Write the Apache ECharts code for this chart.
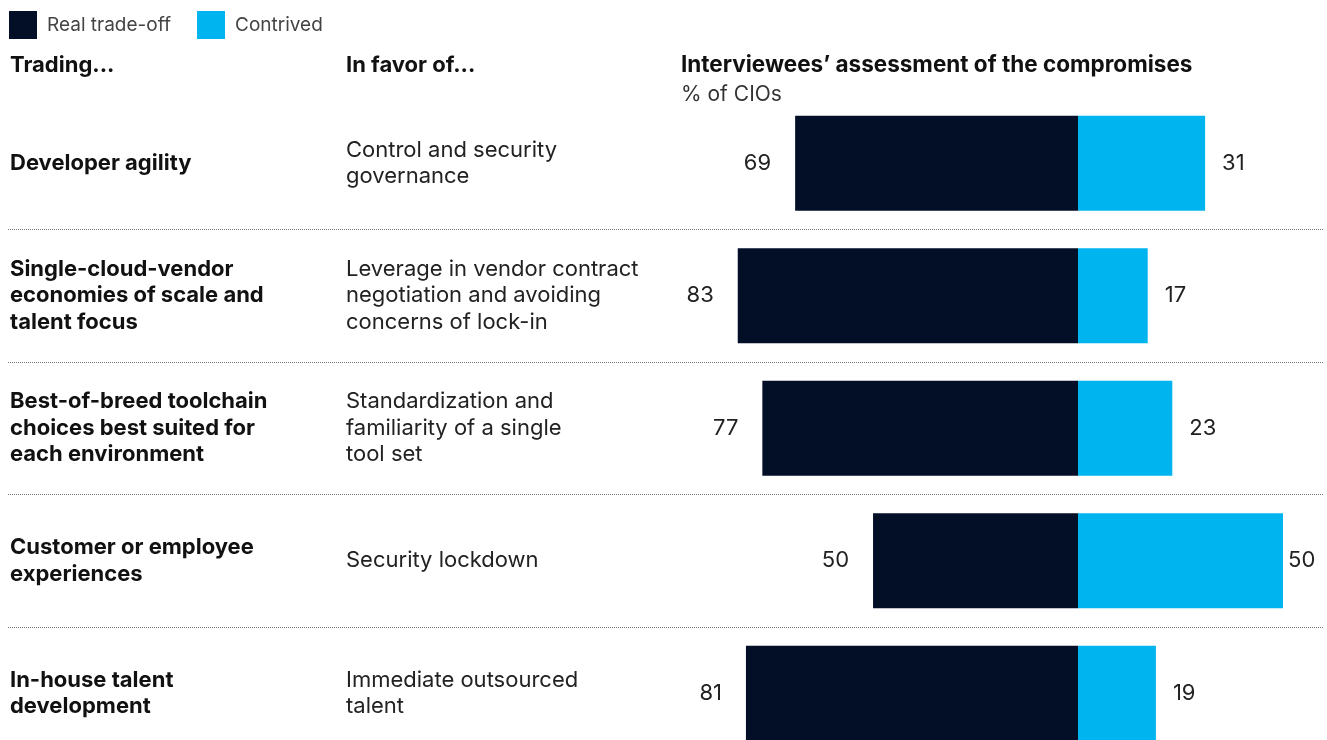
<!DOCTYPE html>
<html>
<head>
<meta charset="utf-8">
<script src="https://cdn.jsdelivr.net/npm/echarts@6/dist/echarts.min.js"></script>
<style>
  html, body { margin: 0; padding: 0; background: #fff; }
  #chart { width: 1327px; height: 740px; }
</style>
</head>
<body>
<div id="chart"></div>
<script type="text/javascript">
	// row labels
	var trading = [
		'Developer agility',
		'Single-cloud-vendor\neconomies of scale and\ntalent focus',
		'Best-of-breed toolchain\nchoices best suited for\neach environment',
		'Customer or employee\nexperiences',
		'In-house talent\ndevelopment'
	];
	var inFavorOf = [
		'Control and security\ngovernance',
		'Leverage in vendor contract\nnegotiation and avoiding\nconcerns of lock-in',
		'Standardization and\nfamiliarity of a single\ntool set',
		'Security lockdown',
		'Immediate outsourced\ntalent'
	];
	// % of CIOs
	var realTradeOff = [69, 83, 77, 50, 81];
	var contrived = [31, 17, 23, 50, 19];

	var font = 'Inter, Roboto, sans-serif';
	var darkColor = '#020f27';
	var cyanColor = '#00b4f0';

	function headStyle(size, weight, color) {
		return { fontSize : size, fontWeight : weight, color : color, fontFamily : font };
	}

	var option = {
		animation : false,
		textStyle : { fontFamily : font },
		title : [ {
			text : 'Trading...',
			left : 10,
			top : 54,
			padding : 0,
			textStyle : headStyle(22, 'bold', '#111')
		}, {
			text : 'In favor of...',
			left : 346,
			top : 54,
			padding : 0,
			textStyle : headStyle(22, 'bold', '#111')
		}, {
			text : 'Interviewees\u2019 assessment of the compromises',
			left : 681,
			top : 54,
			padding : 0,
			textStyle : headStyle(22.5, 'bold', '#111')
		}, {
			text : '% of CIOs',
			left : 681,
			top : 84,
			padding : 0,
			textStyle : headStyle(21, 'normal', '#333')
		} ],
		legend : {
			left : 9,
			top : 11,
			padding : 0,
			itemWidth : 28,
			itemHeight : 28,
			itemGap : 26,
			icon : 'rect',
			data : [ 'Real trade-off', 'Contrived' ],
			textStyle : {
				fontSize : 19,
				color : '#444',
				fontFamily : font,
				padding : [ 0, 0, 0, 5 ]
			}
		},
		grid : {
			left : 8,
			width : 1316,
			top : 97,
			height : 662.5,
			outerBoundsMode : 'none'
		},
		xAxis : {
			type : 'value',
			min : -261,
			max : 60,
			show : false,
			splitLine : { show : false }
		},
		yAxis : [ {
			type : 'category',
			inverse : true,
			data : trading,
			axisLine : { show : false },
			axisTick : { show : false },
			axisLabel : {
				inside : true,
				margin : 2,
				fontSize : 22,
				fontWeight : 'bold',
				color : '#111',
				lineHeight : 26.5,
				fontFamily : font
			},
			splitLine : {
				show : true,
				showMinLine : false,
				showMaxLine : false,
				lineStyle : { type : 'dotted', color : '#777', width : 1 }
			}
		}, {
			type : 'category',
			inverse : true,
			position : 'left',
			offset : -338,
			data : inFavorOf,
			axisLine : { show : false },
			axisTick : { show : false },
			splitLine : { show : false },
			axisLabel : {
				inside : true,
				margin : 0,
				fontSize : 22,
				color : '#222',
				lineHeight : 26.5,
				fontFamily : font
			}
		} ],
		series : [ {
			name : 'Real trade-off',
			type : 'bar',
			stack : 'total',
			barWidth : 95,
			itemStyle : { color : darkColor },
			label : {
				show : true,
				position : 'left',
				distance : 24,
				fontSize : 22,
				color : '#222',
				fontFamily : font,
				formatter : function(p) {
					return Math.abs(p.value);
				}
			},
			data : realTradeOff.map(function(v) { return -v; })
		}, {
			name : 'Contrived',
			type : 'bar',
			stack : 'total',
			barWidth : 95,
			itemStyle : { color : cyanColor },
			label : {
				show : true,
				position : 'right',
				distance : 17,
				fontSize : 22,
				color : '#222',
				fontFamily : font
			},
			// the widest bar leaves little room, its label sits closer
			data : contrived.map(function(v) {
				return v >= 50 ? { value : v, label : { distance : 5 } } : v;
			})
		} ]
	};

	var chart = echarts.init(document.getElementById('chart'));
	chart.setOption(option);
</script>
</body>
</html>
